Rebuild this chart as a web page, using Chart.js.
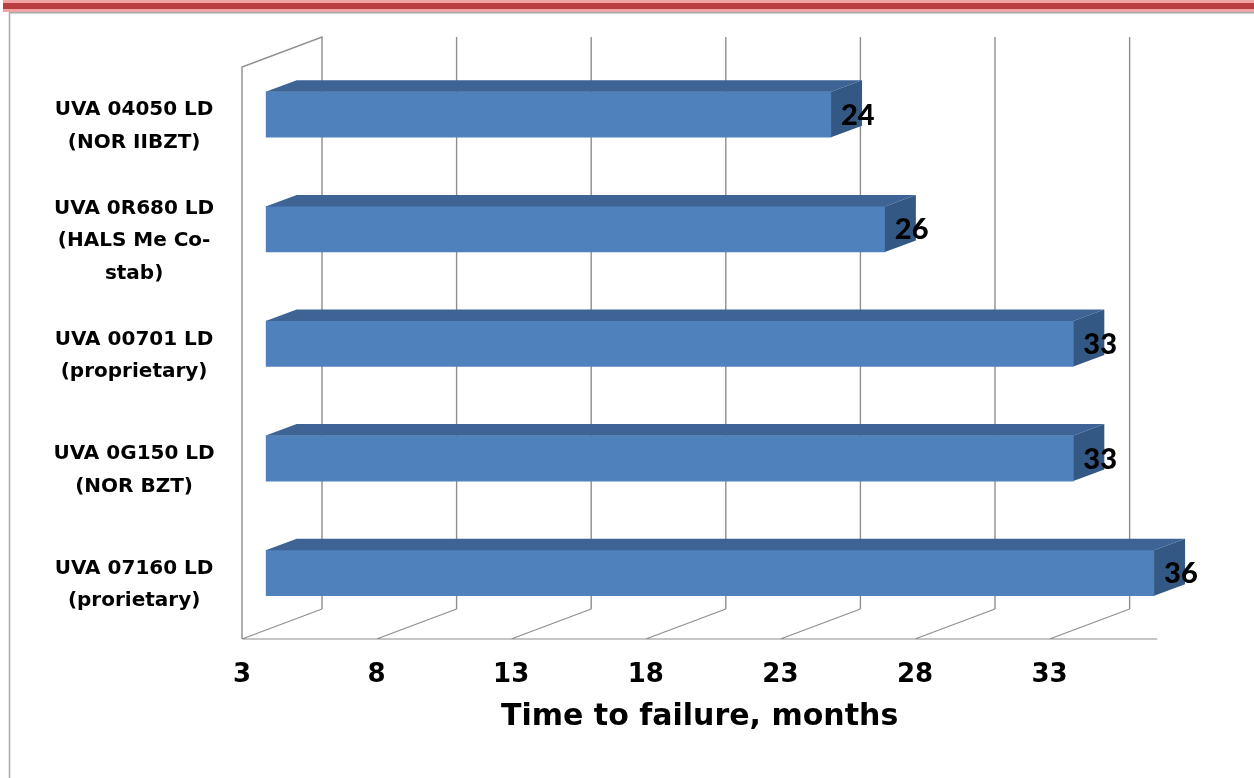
<!DOCTYPE html>
<html>
<head>
<meta charset="utf-8">
<script src="https://cdn.jsdelivr.net/npm/chart.js@4/dist/chart.umd.min.js"></script>
<style>
  html, body { margin: 0; padding: 0; background: #ffffff; }
  #wrap { position: relative; width: 1254px; height: 778px; }
  canvas { display: block; }
</style>
</head>
<body>
<div id="wrap"><canvas id="chart"></canvas></div>
<script>
// Stabilizer grades and their time to failure
const categories = [
  ['UVA 04050 LD', '(NOR IIBZT)'],
  ['UVA 0R680 LD', '(HALS Me Co-', 'stab)'],
  ['UVA 00701 LD', '(proprietary)'],
  ['UVA 0G150 LD', '(NOR BZT)'],
  ['UVA 07160 LD', '(prorietary)']
];
const monthsToFailure = [24, 26, 33, 33, 36];
const tickValues = [3, 8, 13, 18, 23, 28, 33];
const axisMin = 3;
const axisMax = 37;
const axisTitle = 'Time to failure, months';

// 3D look: the bars sit in the middle of a box whose front edge is
// shifted left of the bar plane and whose back wall is shifted right.
const FRONT_DX = -23.7, BACK_DX = 56.3;       // wall planes vs. bar plane
const WALL_DY = 30;                           // vertical drop from back to front
const BAR_DEPTH_X = 31, BAR_DEPTH_Y = 11.5;   // bar extrusion
const WALL_COLOR = '#8e8e8e';
const BAR_FRONT = '#4f81bd', BAR_TOP = '#3d6494', BAR_SIDE = '#335883';
const TITLE_FONT = 'bold 30px "DejaVu Sans"';
const VALUE_FONT = '900 29px Lato';

const framePlugin = {
  id: 'frame',
  beforeDraw(chart) {
    const {ctx, width, height} = chart;
    ctx.save();
    ctx.fillStyle = '#ffffff';
    ctx.fillRect(0, 0, width, height);
    // coloured band along the top
    ctx.fillStyle = '#f2a3a4';
    ctx.fillRect(3, 0, width - 3, 12);
    ctx.fillStyle = '#b93d41';
    ctx.fillRect(3, 3, width - 3, 6);
    // thin border of the sheet
    ctx.strokeStyle = '#a9a9a9';
    ctx.lineWidth = 1.5;
    ctx.beginPath();
    ctx.moveTo(9.5, height);
    ctx.lineTo(9.5, 12.75);
    ctx.lineTo(width, 12.75);
    ctx.stroke();
    ctx.restore();
  }
};

const wallsPlugin = {
  id: 'walls',
  beforeDatasetsDraw(chart) {
    const {ctx, chartArea} = chart;
    const xs = chart.scales.x;
    const fx = v => xs.getPixelForValue(v) + FRONT_DX;
    const bx = v => xs.getPixelForValue(v) + BACK_DX;
    const floorFront = chartArea.bottom + 8.7;
    const floorBack = floorFront - WALL_DY;
    const topFront = chartArea.top + 9.8;
    const topBack = topFront - WALL_DY;
    ctx.save();
    ctx.strokeStyle = WALL_COLOR;
    ctx.lineWidth = 1.4;
    ctx.beginPath();
    // left side wall
    ctx.moveTo(fx(axisMin), floorFront);
    ctx.lineTo(fx(axisMin), topFront);
    ctx.lineTo(bx(axisMin), topBack);
    ctx.lineTo(bx(axisMin), floorBack);
    // back wall grid lines
    xs.ticks.forEach(t => {
      if (t.value === axisMin) return;
      ctx.moveTo(bx(t.value), topBack);
      ctx.lineTo(bx(t.value), floorBack);
    });
    ctx.stroke();
    // floor: front edge and depth lines
    ctx.lineWidth = 1.2;
    ctx.beginPath();
    ctx.moveTo(fx(axisMin), floorFront);
    ctx.lineTo(fx(axisMax), floorFront);
    xs.ticks.forEach(t => {
      ctx.moveTo(fx(t.value), floorFront);
      ctx.lineTo(bx(t.value), floorBack);
    });
    ctx.stroke();
    // axis title, centred under the front edge of the floor
    ctx.fillStyle = '#000000';
    ctx.font = TITLE_FONT;
    ctx.textAlign = 'center';
    ctx.textBaseline = 'middle';
    ctx.fillText(axisTitle, (fx(axisMin) + fx(axisMax)) / 2, 717);
    ctx.restore();
  }
};

const barDepthPlugin = {
  id: 'barDepth',
  afterDatasetsDraw(chart) {
    const {ctx} = chart;
    const meta = chart.getDatasetMeta(0);
    const values = chart.data.datasets[0].data;
    ctx.save();
    meta.data.forEach((bar, i) => {
      const {x, y, base, height} = bar.getProps(['x', 'y', 'base', 'height'], true);
      const top = y - height / 2, bottom = y + height / 2;
      // top face
      ctx.fillStyle = BAR_TOP;
      ctx.beginPath();
      ctx.moveTo(base, top);
      ctx.lineTo(base + BAR_DEPTH_X, top - BAR_DEPTH_Y);
      ctx.lineTo(x + BAR_DEPTH_X, top - BAR_DEPTH_Y);
      ctx.lineTo(x, top);
      ctx.closePath();
      ctx.fill();
      // end face
      ctx.fillStyle = BAR_SIDE;
      ctx.beginPath();
      ctx.moveTo(x, top);
      ctx.lineTo(x + BAR_DEPTH_X, top - BAR_DEPTH_Y);
      ctx.lineTo(x + BAR_DEPTH_X, bottom - BAR_DEPTH_Y);
      ctx.lineTo(x, bottom);
      ctx.closePath();
      ctx.fill();
      // value label
      ctx.fillStyle = '#000000';
      ctx.font = VALUE_FONT;
      ctx.textAlign = 'left';
      ctx.textBaseline = 'middle';
      ctx.fillText(String(values[i]), x + 10, y + 1);
    });
    ctx.restore();
  }
};

new Chart(document.getElementById('chart'), {
  type: 'bar',
  data: {
    labels: categories,
    datasets: [{
      data: monthsToFailure,
      base: axisMin,
      backgroundColor: BAR_FRONT,
      borderWidth: 0,
      barThickness: 45.5
    }]
  },
  options: {
    indexAxis: 'y',
    responsive: true,
    maintainAspectRatio: false,
    animation: false,
    layout: { padding: { top: 57.2, left: 0, right: 73, bottom: 0 } },
    plugins: {
      legend: { display: false },
      tooltip: { enabled: false },
      title: { display: false }
    },
    scales: {
      x: {
        type: 'linear',
        min: axisMin,
        max: axisMax,
        grid: { display: false, drawTicks: false },
        border: { display: false },
        ticks: {
          color: '#000000',
          padding: 29.5,
          labelOffset: FRONT_DX,
          maxRotation: 0,
          autoSkip: false,
          font: { family: 'DejaVu Sans', weight: 'bold', size: 26, lineHeight: 1.2 }
        },
        afterBuildTicks(scale) {
          scale.ticks = tickValues.map(v => ({ value: v }));
        },
        afterFit(scale) {
          scale.height = 147.7;
          scale.paddingLeft = 0;
          scale.paddingRight = 0;
        }
      },
      y: {
        type: 'category',
        grid: { display: false, drawTicks: false },
        border: { display: false },
        ticks: {
          color: '#000000',
          crossAlign: 'center',
          padding: 51,
          labelOffset: 12,
          autoSkip: false,
          font: { family: 'DejaVu Sans', weight: 'bold', size: 20, lineHeight: '32.5px' }
        },
        afterFit(scale) {
          scale.width = 265.7;
          scale.paddingTop = 0;
          scale.paddingBottom = 0;
        }
      }
    }
  },
  plugins: [framePlugin, wallsPlugin, barDepthPlugin]
});
</script>
</body>
</html>
